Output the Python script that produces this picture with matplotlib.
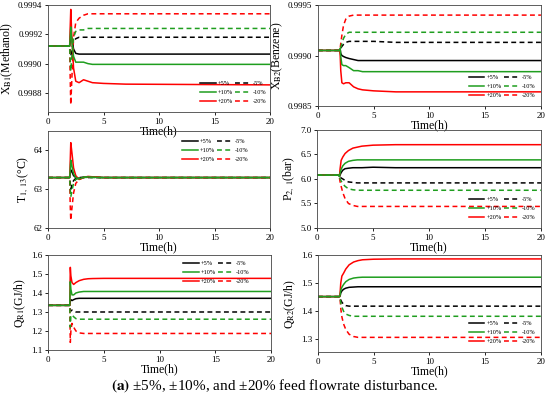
import matplotlib
matplotlib.use("Agg")
import matplotlib.pyplot as plt

plt.rcParams['font.family'] = ['Liberation Serif', 'DejaVu Serif']
plt.rcParams['mathtext.fontset'] = 'stix'

# shared time grid (h)
t = [0, 1.95, 2.0, 2.05, 2.15, 2.3, 2.5, 2.8, 3.2, 3.6, 4.0, 5.0, 7.0, 20]

labels = ['+5%', '-5%', '+10%', '-10%', '+20%', '-20%']

# X_B1 (Methanol)
xb1_p5 = [0.99912, 0.99912, 0.99915, 0.99920, 0.99917, 0.99910, 0.99907, 0.999065, 0.999065, 0.999065, 0.999065, 0.999065, 0.999065, 0.999065]
xb1_m5 = [0.99912, 0.99912, 0.99908, 0.99905, 0.99910, 0.99915, 0.99917, 0.99918, 0.99918, 0.99918, 0.99918, 0.99918, 0.99918, 0.99918]
xb1_p10 = [0.99912, 0.99912, 0.99918, 0.99925, 0.99915, 0.99905, 0.99901, 0.99901, 0.99901, 0.99900, 0.998995, 0.998995, 0.998995, 0.998995]
xb1_m10 = [0.99912, 0.99912, 0.99902, 0.99895, 0.99905, 0.99918, 0.99922, 0.99923, 0.99923, 0.99924, 0.99924, 0.99924, 0.99924, 0.99924]
xb1_p20 = [0.99912, 0.99912, 0.99925, 0.99937, 0.99918, 0.99897, 0.99888, 0.99887, 0.99889, 0.99888, 0.99887, 0.998865, 0.99886, 0.998855]
xb1_m20 = [0.99912, 0.99912, 0.99890, 0.99872, 0.99890, 0.99918, 0.99928, 0.99931, 0.99933, 0.99934, 0.99934, 0.99934, 0.99934, 0.99934]

# X_B2 (Benzene)
xb2_p5 = [0.99905, 0.99905, 0.99906, 0.99902, 0.99900, 0.99899, 0.99898, 0.99897, 0.99896, 0.99895, 0.99895, 0.99895, 0.99895, 0.99895]
xb2_m5 = [0.99905, 0.99905, 0.99905, 0.99907, 0.99909, 0.99911, 0.99913, 0.99914, 0.99914, 0.99914, 0.99914, 0.99914, 0.99913, 0.99913]
xb2_p10 = [0.99905, 0.99905, 0.99907, 0.99899, 0.99891, 0.99890, 0.99890, 0.99888, 0.99885, 0.99885, 0.99884, 0.99884, 0.99884, 0.99884]
xb2_m10 = [0.99905, 0.99905, 0.99905, 0.99908, 0.99912, 0.99917, 0.99921, 0.99923, 0.99923, 0.99923, 0.99923, 0.99923, 0.99923, 0.99923]
xb2_p20 = [0.99905, 0.99905, 0.99900, 0.99885, 0.99873, 0.99872, 0.99873, 0.99873, 0.99869, 0.99867, 0.99866, 0.99865, 0.99864, 0.99864]
xb2_m20 = [0.99905, 0.99905, 0.99907, 0.99912, 0.99920, 0.99930, 0.99936, 0.99939, 0.99940, 0.99940, 0.99940, 0.99940, 0.99940, 0.99940]

# T_1,13 (C)
temp_p5 = [63.3, 63.3, 63.4, 63.5, 63.45, 63.35, 63.3, 63.28, 63.3, 63.32, 63.31, 63.3, 63.3, 63.3]
temp_m5 = [63.3, 63.3, 63.15, 63.0, 63.1, 63.22, 63.28, 63.3, 63.31, 63.3, 63.3, 63.3, 63.3, 63.3]
temp_p10 = [63.3, 63.3, 63.5, 63.75, 63.6, 63.4, 63.3, 63.27, 63.3, 63.32, 63.31, 63.3, 63.3, 63.3]
temp_m10 = [63.3, 63.3, 63.0, 62.8, 62.95, 63.15, 63.25, 63.28, 63.31, 63.3, 63.3, 63.3, 63.3, 63.3]
temp_p20 = [63.3, 63.3, 63.7, 64.2, 63.95, 63.55, 63.35, 63.25, 63.3, 63.33, 63.32, 63.3, 63.3, 63.3]
temp_m20 = [63.3, 63.3, 62.6, 62.2, 62.5, 62.9, 63.15, 63.25, 63.3, 63.32, 63.31, 63.3, 63.3, 63.3]

# P_2,1 (bar)
pres_p5 = [6.08, 6.08, 6.05, 6.08, 6.13, 6.18, 6.21, 6.22, 6.23, 6.23, 6.23, 6.24, 6.23, 6.23]
pres_m5 = [6.08, 6.08, 6.05, 6.04, 6.02, 6.00, 5.97, 5.94, 5.93, 5.92, 5.92, 5.92, 5.92, 5.92]
pres_p10 = [6.08, 6.08, 6.05, 6.12, 6.20, 6.27, 6.32, 6.36, 6.38, 6.39, 6.39, 6.39, 6.39, 6.39]
pres_m10 = [6.08, 6.08, 6.04, 6.00, 5.96, 5.90, 5.85, 5.80, 5.78, 5.77, 5.77, 5.77, 5.77, 5.77]
pres_p20 = [6.08, 6.08, 6.06, 6.20, 6.38, 6.45, 6.52, 6.58, 6.63, 6.65, 6.67, 6.69, 6.70, 6.70]
pres_m20 = [6.08, 6.08, 6.02, 5.95, 5.85, 5.72, 5.60, 5.50, 5.46, 5.44, 5.44, 5.44, 5.44, 5.44]

# Q_R1 (GJ/h)
qr1_p5 = [1.335, 1.335, 1.36, 1.365, 1.36, 1.365, 1.37, 1.372, 1.372, 1.372, 1.372, 1.372, 1.372, 1.372]
qr1_m5 = [1.335, 1.335, 1.31, 1.305, 1.31, 1.305, 1.30, 1.30, 1.30, 1.30, 1.30, 1.30, 1.30, 1.30]
qr1_p10 = [1.335, 1.335, 1.46, 1.42, 1.39, 1.39, 1.40, 1.405, 1.408, 1.408, 1.408, 1.408, 1.408, 1.408]
qr1_m10 = [1.335, 1.335, 1.22, 1.28, 1.285, 1.275, 1.265, 1.262, 1.262, 1.262, 1.262, 1.262, 1.262, 1.262]
qr1_p20 = [1.335, 1.335, 1.535, 1.49, 1.455, 1.445, 1.455, 1.465, 1.472, 1.475, 1.476, 1.477, 1.477, 1.477]
qr1_m20 = [1.335, 1.335, 1.14, 1.20, 1.24, 1.22, 1.20, 1.19, 1.187, 1.187, 1.187, 1.187, 1.187, 1.187]

# Q_R2 (GJ/h)
qr2_p5 = [1.452, 1.452, 1.455, 1.465, 1.472, 1.478, 1.482, 1.485, 1.486, 1.487, 1.487, 1.487, 1.487, 1.487]
qr2_m5 = [1.452, 1.452, 1.448, 1.44, 1.432, 1.425, 1.42, 1.418, 1.418, 1.418, 1.418, 1.418, 1.418, 1.418]
qr2_p10 = [1.452, 1.452, 1.46, 1.475, 1.485, 1.495, 1.505, 1.513, 1.518, 1.52, 1.521, 1.521, 1.521, 1.521]
qr2_m10 = [1.452, 1.452, 1.445, 1.43, 1.415, 1.40, 1.39, 1.385, 1.382, 1.382, 1.382, 1.382, 1.382, 1.382]
qr2_p20 = [1.452, 1.452, 1.47, 1.50, 1.525, 1.535, 1.55, 1.565, 1.575, 1.58, 1.583, 1.585, 1.586, 1.586]
qr2_m20 = [1.452, 1.452, 1.44, 1.41, 1.38, 1.355, 1.335, 1.318, 1.31, 1.307, 1.307, 1.307, 1.307, 1.307]

colors = ['black', 'black', '#1f9e1f', '#1f9e1f', 'red', 'red']
styles = ['-', '--', '-', '--', '-', '--']

panels = [
    # series, ylabel, ylim, yticks, tick fmt, axes rect, legend loc, legend anchor
    ([xb1_p5, xb1_m5, xb1_p10, xb1_m10, xb1_p20, xb1_m20], r'X$_{\rm B1}$(Methanol)',
     (0.99867, 0.9994), [0.9988, 0.9990, 0.9992, 0.9994], '{:.4f}',
     [0.0873, 0.7179, 0.4036, 0.2695], 'lower right', (1.0, 0.04)),
    ([xb2_p5, xb2_m5, xb2_p10, xb2_m10, xb2_p20, xb2_m20], r'X$_{\rm B2}$(Benzene)',
     (0.9985, 0.9995), [0.9985, 0.9990, 0.9995], '{:.4f}',
     [0.578, 0.733, 0.4055, 0.2544], 'lower right', (0.99, 0.04)),
    ([temp_p5, temp_m5, temp_p10, temp_m10, temp_p20, temp_m20], r'T$_{\rm 1,\ 13}$(°C)',
     (62, 64.5), [62, 63, 64], '{:.0f}',
     [0.0873, 0.4257, 0.4036, 0.2443], 'upper right', (0.92, 0.96)),
    ([pres_p5, pres_m5, pres_p10, pres_m10, pres_p20, pres_m20], r'P$_{\rm 2,\ 1}$(bar)',
     (5.0, 7.0), [5.0, 5.5, 6.0, 6.5, 7.0], '{:.1f}',
     [0.5765, 0.4257, 0.4073, 0.2469], 'lower right', (0.99, 0.04)),
    ([qr1_p5, qr1_m5, qr1_p10, qr1_m10, qr1_p20, qr1_m20], r'Q$_{\rm R1}$(GJ/h)',
     (1.1, 1.6), [1.1, 1.2, 1.3, 1.4, 1.5, 1.6], '{:.1f}',
     [0.0873, 0.1184, 0.4055, 0.2393], 'upper right', (0.92, 0.98)),
    ([qr2_p5, qr2_m5, qr2_p10, qr2_m10, qr2_p20, qr2_m20], r'Q$_{\rm R2}$(GJ/h)',
     (1.255, 1.6), [1.3, 1.4, 1.5, 1.6], '{:.1f}',
     [0.578, 0.1134, 0.4055, 0.2443], 'lower right', (0.99, 0.04)),
]

fig = plt.figure(figsize=(5.5, 3.97), dpi=100)

for series, ylab, ylim, yticks, fmt, rect, loc, anchor in panels:
    ax = fig.add_axes(rect)
    ax.set_facecolor('none')
    # green drawn last so it sits on top of the baseline, like the original
    order = [0, 1, 4, 5, 2, 3]
    handles = {}
    for i in order:
        ln, = ax.plot(t, series[i], color=colors[i], ls=styles[i], lw=1.1)
        if styles[i] == '--':
            ln.set_dashes((3.2, 2.2))
        handles[i] = ln
    ax.set_xlim(0, 20)
    ax.set_ylim(*ylim)
    ax.set_xticks([0, 5, 10, 15, 20])
    ax.set_yticks(yticks)
    ax.set_yticklabels([fmt.format(v) for v in yticks])
    ax.tick_params(direction='out', length=2.5, width=0.6, labelsize=6.5, pad=1.5)
    for sp in ax.spines.values():
        sp.set_linewidth(0.6)
        sp.set_color('#444444')
    ax.set_xlabel('Time(h)', fontsize=8.5, labelpad=0)
    ax.set_ylabel(ylab, fontsize=8.5, labelpad=2)
    # column-major fill -> rows: (+5%, -5%), (+10%, -10%), (+20%, -20%)
    leg_order = [0, 2, 4, 1, 3, 5]
    ax.legend([handles[i] for i in leg_order], [labels[i] for i in leg_order],
              loc=loc, bbox_to_anchor=anchor,
              ncol=2, frameon=False, fontsize=4.5, handlelength=2.5,
              labelspacing=0.6, columnspacing=0.4, handletextpad=0.3,
              borderaxespad=0.2)

fig.text(0.5, 0.03, r'$\bf{(a)}$ ±5%, ±10%, and ±20% feed flowrate disturbance.',
         ha='center', va='center', fontsize=11)

fig.savefig('out.png', dpi=100)
